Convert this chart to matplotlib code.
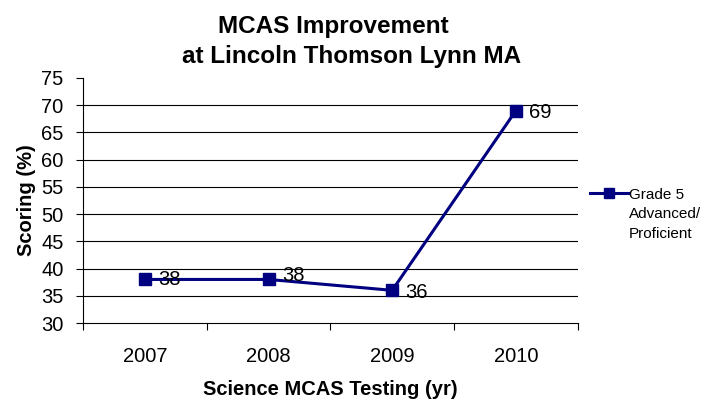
import numpy as np
import matplotlib.pyplot as plt

plt.rcParams['font.family'] = ['Liberation Sans', 'DejaVu Sans']

years = ['2007', '2008', '2009', '2010']
scores = [38, 38, 36, 69]
series_name = 'Grade 5\nAdvanced/\nProficient'

navy = '#000080'

fig = plt.figure(figsize=(7.18, 4.03), dpi=100)
ax = fig.add_axes([0.1156, 0.1985, 0.689, 0.608])

x = np.arange(len(years))
ax.plot(x, scores, color=navy, lw=2.2, marker='s', markersize=9,
        label=series_name)

# data labels, nudged like the original
offsets = [(9.5, 0), (9.5, 3), (9.5, -1.5), (9.5, -1)]
for xi, yi, (dx, dy) in zip(x, scores, offsets):
    ax.annotate(str(yi), (xi, yi), xytext=(dx, dy), textcoords='offset points',
                ha='left', va='center', fontsize=14.5)

ax.set_xlim(-0.5, len(years) - 0.5)
ax.set_ylim(30, 75)
ax.set_yticks(np.arange(30, 80, 5))
for yv in range(35, 75, 5):
    ax.axhline(yv, color='black', lw=0.8, zorder=0)

ax.set_xticks(np.arange(-0.5, len(years), 1))
ax.set_xticklabels([])
ax.set_xticks(x, minor=True)
ax.set_xticklabels(years, minor=True, fontsize=14.5)
ax.tick_params(axis='x', which='minor', length=0, pad=17)
ax.tick_params(axis='x', which='major', length=5, direction='out')
ax.tick_params(axis='y', length=5, direction='out', labelsize=14.5, pad=9)

ax.spines['top'].set_visible(False)
ax.spines['right'].set_visible(False)

ax.set_xlabel('Science MCAS Testing (yr)', fontsize=14.5, fontweight='bold',
              labelpad=10.5)
ax.set_ylabel('Scoring (%)', fontsize=14.5, fontweight='bold', labelpad=4)

fig.text(333 / 718, 1 - 33 / 403, 'MCAS Improvement', fontsize=17.5,
         fontweight='bold', ha='center', va='baseline')
fig.text(352 / 718, 1 - 63 / 403, 'at Lincoln Thomson Lynn MA', fontsize=17.5,
         fontweight='bold', ha='center', va='baseline')

leg = ax.legend(loc='upper left', bbox_to_anchor=(590 / 718, 1 - 188 / 403),
                bbox_transform=fig.transFigure, frameon=False, fontsize=11,
                handlelength=2.5, borderpad=0, borderaxespad=0,
                handletextpad=0.05, markerscale=0.8)
# put the legend marker beside the first text line
for col in leg._legend_handle_box.get_children():
    for item in col.get_children():
        item.align = 'top'
for t in leg.get_texts():
    t.set_linespacing(1.5)

fig.savefig('out.png', dpi=100)
